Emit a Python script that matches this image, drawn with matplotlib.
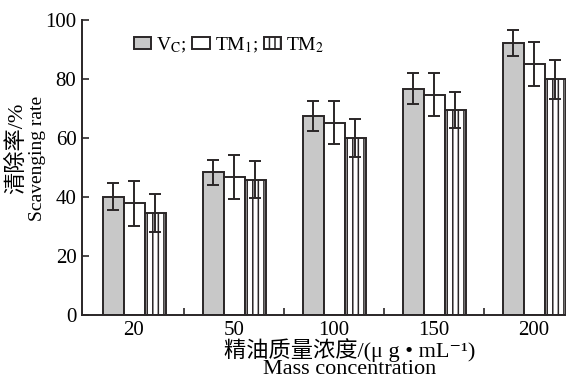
import numpy as np
import matplotlib
matplotlib.use("Agg")
import matplotlib.pyplot as plt
from matplotlib.patches import Patch

plt.rcParams['font.family'] = ['Liberation Serif', 'Noto Sans CJK SC', 'DejaVu Serif']
plt.rcParams['mathtext.fontset'] = 'stix'
plt.rcParams['hatch.linewidth'] = 1.1

# ---- data
concentrations = ['20', '50', '100', '150', '200']
vc_mean = [40.1, 48.4, 67.5, 76.7, 92.2]
vc_err = [4.5, 4.2, 5.1, 5.2, 4.3]
tm1_mean = [37.9, 46.7, 65.2, 74.6, 85.0]
tm1_err = [7.6, 7.4, 7.3, 7.3, 7.4]
tm2_mean = [34.5, 45.8, 59.9, 69.5, 79.9]
tm2_err = [6.5, 6.3, 6.5, 6.0, 6.7]
legend_labels = [r'V$_{\mathrm{C}}$;', r'TM$_{1}$;', r'TM$_{2}$']

edge = '#2a2627'
fig = plt.figure(figsize=(5.66, 3.79), dpi=100)
ax = fig.add_axes([82 / 566, 1 - 315 / 379, 1 - 82 / 566, 295 / 379])

x = np.arange(len(concentrations))
w = 0.21
kw = dict(edgecolor=edge, linewidth=1.4, zorder=2)
ekw = dict(ecolor=edge, elinewidth=1.4, capsize=4, capthick=1.4)
ax.bar(x - w, vc_mean, w, color='#c8c8c8', yerr=vc_err, error_kw=ekw, **kw)
ax.bar(x, tm1_mean, w, color='white', yerr=tm1_err, error_kw=ekw, **kw)
ax.bar(x + w, tm2_mean, w, color='white', hatch='|||', yerr=tm2_err, error_kw=ekw, **kw)

ax.set_xlim(-0.52, 4.32)
ax.set_ylim(0, 100)
ax.set_yticks([0, 20, 40, 60, 80, 100])
ax.set_xticks(x)
ax.set_xticklabels(concentrations)
ax.set_xticks(x[:-1] + 0.5, minor=True)
ax.tick_params(axis='x', which='major', length=0, pad=4, labelsize=15)
ax.tick_params(axis='x', which='minor', direction='in', length=5, width=1.2, color=edge)
ax.tick_params(axis='y', direction='in', length=5, width=1.2, color=edge, labelsize=15, pad=4)
for s in ['top', 'right']:
    ax.spines[s].set_visible(False)
for s in ['left', 'bottom']:
    ax.spines[s].set_linewidth(1.4)
    ax.spines[s].set_color(edge)

handles = [Patch(facecolor='#c8c8c8', edgecolor=edge, linewidth=1.4),
           Patch(facecolor='white', edgecolor=edge, linewidth=1.4),
           Patch(facecolor='white', edgecolor=edge, linewidth=1.4, hatch='|||')]
ax.legend(handles, legend_labels, ncol=3, loc='upper left', bbox_to_anchor=(0.087, 0.982),
          frameon=False, fontsize=14, handlelength=0.9, handleheight=0.55,
          handletextpad=0.25, columnspacing=0.3, borderpad=0)

fig.text(350 / 566, 1 - 350 / 379, '精油质量浓度/(μ g • mL⁻¹)', ha='center', va='center', fontsize=16)
fig.text(350 / 566, 1 - 370 / 379, 'Mass concentration', ha='center', va='center', fontsize=16)
fig.text(17 / 566, 1 - 148 / 379, '清除率/%', rotation=90, ha='center', va='center', fontsize=16)
fig.text(38 / 566, 1 - 158 / 379, 'Scavenging rate', rotation=90, ha='center', va='center', fontsize=14)

fig.savefig('out.png', dpi=100, facecolor='white')
